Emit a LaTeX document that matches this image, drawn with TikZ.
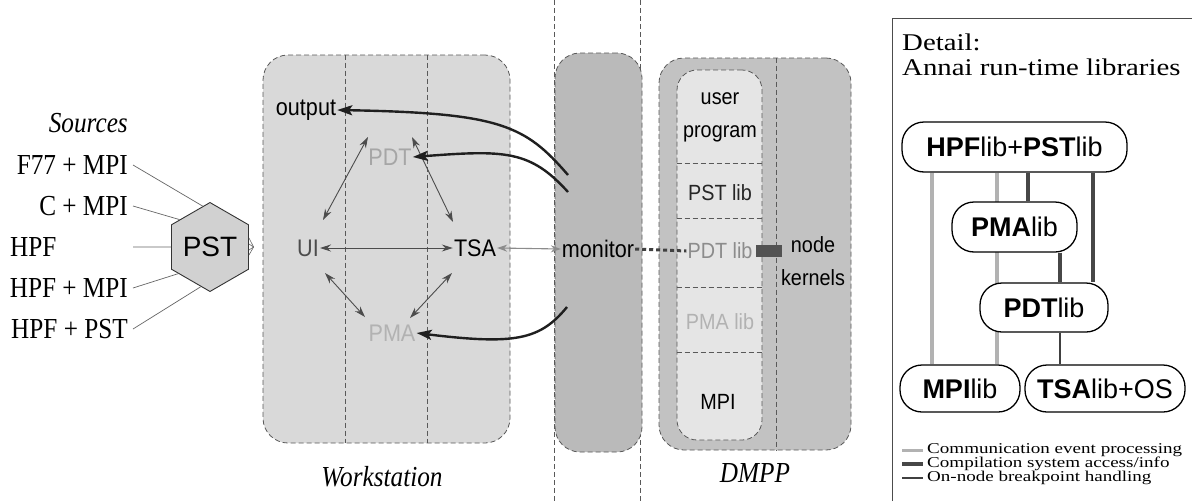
\documentclass[tikz,border=0pt]{standalone}
\usepackage{fontspec}
\setmainfont{Liberation Serif}
\newfontfamily\lblf[FakeStretch=0.9]{Liberation Sans}
\newfontfamily\pillf{Liberation Sans}
\newfontfamily\srcf[FakeStretch=0.87]{Liberation Serif}
\newfontfamily\detf[FakeStretch=1.2]{Liberation Serif}
\newfontfamily\legf[FakeStretch=1.27]{Liberation Serif}
\usetikzlibrary{shapes.geometric,arrows.meta,backgrounds,calc}
\newcommand\myfs[1]{\fontsize{#1}{#1}\selectfont}
\tikzset{
 dl/.style={dash pattern=on 5pt off 3pt, draw=black!65, line width=0.8pt},
 bigbox/.style={dl, rounded corners=25pt, inner sep=0pt},
 lbl/.style={font=\lblf\myfs{24}, inner sep=1pt},
 src/.style={font=\srcf\myfs{29}, inner sep=0pt},
 itcap/.style={font=\srcf\itshape\myfs{29}, inner sep=0pt},
 pill/.style={draw=black, line width=1.3pt, fill=white, rounded corners=22pt, font=\pillf\myfs{27}, inner sep=0pt},
 dbl/.style={{Stealth[length=11pt,width=7pt]}-{Stealth[length=11pt,width=7pt]}, line width=0.9pt, draw=black!70},
 thk/.style={-{Stealth[length=15pt,width=10pt,inset=3pt]}, line width=2.4pt, draw=black!88},
 srcline/.style={draw=black!60, line width=0.7pt},
 comm/.style={draw=black!30, line width=3.5pt},
 compl/.style={draw=black!72, line width=4pt},
 brk/.style={draw=black!75, line width=1.4pt},
}
\begin{document}
\begin{tikzpicture}[x=1pt,y=-1pt]
\useasboundingbox (0,0) rectangle (1192,501);
\begin{pgfonlayer}{background}
\fill[white] (0,0) rectangle (1192,501);
\end{pgfonlayer}

% outer dashed column lines
\draw[dl] (554,0) -- (554,501);
\draw[dl] (640,0) -- (640,501);

% big boxes
\node[bigbox, fill=black!15, minimum width=247pt, minimum height=388pt] (ws) at (386.5,249) {};
\draw[dl] (ws.north -| 345,0) -- (ws.south -| 345,0);
\draw[dl] (ws.north -| 427,0) -- (ws.south -| 427,0);
\node[bigbox, fill=black!27, minimum width=87pt, minimum height=399pt] (mon) at (598.5,252.5) {};
\node[bigbox, fill=black!24, minimum width=192pt, minimum height=392pt] (dmpp) at (755,254) {};
\draw[dl] (dmpp.north -| 776,0) -- (dmpp.south -| 776,0);
\node[dl, fill=black!10, rounded corners=20pt, inner sep=0pt, minimum width=85pt, minimum height=370pt] (pill) at (719.5,255) {};
\foreach \yy in {163,218,287,352}{\draw[dl] (pill.west |- 0,\yy) -- (pill.east |- 0,\yy);}

% sources
\node[itcap, anchor=east] (srcs) at (128,123) {Sources};
\node[src, anchor=east] (f77) at (128,165) {F77 + MPI};
\node[src, anchor=east] (cmpi) at (128,206) {C + MPI};
\node[src, anchor=west] (hpf) at (10,247) {HPF};
\node[src, anchor=east] (hpfmpi) at (128,288) {HPF + MPI};
\node[src, anchor=east] (hpfpst) at (128,329) {HPF + PST};
\coordinate (hpfend) at (133,247);
\node[regular polygon, regular polygon sides=6, shape border rotate=30, draw=black!80, line width=0.9pt, fill=black!18, minimum size=72pt, inner sep=0pt, font=\pillf\myfs{28}] (pst) at (210,247) {PST};
\draw[srcline] ([xshift=5pt]f77.east) -- (pst.100);
\draw[srcline] ([xshift=5pt]cmpi.east) -- (pst.138);
\draw[srcline] (hpfend) -- (pst.180);
\draw[srcline] ([xshift=5pt]hpfmpi.east) -- (pst.220);
\draw[srcline] ([xshift=5pt]hpfpst.east) -- (pst.257);
\coordinate (fan) at ([shift={(-9,-2)}]ws.west);
\foreach \dy in {-9,-3,3,8}{\draw[draw=black!60, line width=0.6pt] ([yshift=-\dy pt]pst.east) -- (fan);}

% workstation contents
\node[lbl, text=black] (out) at (306,110) {output};
\node[lbl, text=black!35] (pdt) at (390,157) {PDT};
\node[lbl, text=black!70] (ui) at (308,248) {UI};
\node[lbl, text=black] (tsa) at (475,248) {TSA};
\node[lbl, text=black!30] (pma) at (392,333) {PMA};
\draw[dbl] (ui.east) -- (tsa.west);
\draw[dbl] ([shift={(15,-28)}]ui.center) -- ([shift={(-22,-20)}]pdt.center);
\draw[dbl] ([shift={(22,-20)}]pdt.center) -- ([shift={(-22,-26)}]tsa.center);
\draw[dbl] ([shift={(17,25)}]ui.center) -- ([shift={(-27,-16)}]pma.center);
\draw[dbl] ([shift={(-23,25)}]tsa.center) -- ([shift={(18,-15)}]pma.center);

% monitor
\node[lbl] (monl) at (598,249) {monitor};
\draw[{Stealth[length=10pt,width=7pt]}-{Stealth[length=10pt,width=7pt]}, draw=black!45, line width=1.1pt] (tsa.east) -- (monl.west);
\coordinate (m1) at (568,175);
\coordinate (m2) at (568,192);
\coordinate (m3) at (567,307);
\draw[thk] (m1) .. controls (525,125) and (500,113) .. (out.east);
\draw[thk] (m2) .. controls (530,150) and (505,150) .. (pdt.east);
\draw[thk] (m3) .. controls (540,340) and (515,345) .. (pma.east);

% DMPP contents
\node[lbl, align=center, font={\lblf\fontsize{22}{33}\selectfont}] (up) at (720,117) {user\\program};
\node[lbl, font=\lblf\myfs{22}, text=black!85] (pstlib) at (720,193) {PST lib};
\node[lbl, font=\lblf\myfs{22}, text=black!45] (pdtlib) at (720,251) {PDT lib};
\node[lbl, font=\lblf\myfs{22}, text=black!30] (pmalib) at (720,322) {PMA lib};
\node[lbl, font=\lblf\myfs{22}] (mpi) at (718,402) {MPI};
\node[lbl, align=center, font={\lblf\fontsize{22}{33}\selectfont}] (nk) at (813,261) {node\\kernels};
\node[fill=black!68, minimum width=26pt, minimum height=12pt, inner sep=0pt] (blk) at (769,251) {};
\draw[draw=black!75, line width=3pt, dash pattern=on 4pt off 3pt] (monl.east) -- (pdtlib.west);

% captions
\node[itcap] (wsl) at (382,477) {Workstation};
\node[itcap] (dmppl) at (755,473) {DMPP};

% detail panel
\draw[draw=black!70, line width=0.8pt] (892,501) -- (892,18) -- (1192,18);
\node[anchor=west, inner sep=0pt, font=\detf\myfs{24}] (det1) at (902,42) {Detail:};
\node[anchor=west, inner sep=0pt, font=\detf\myfs{24}] (det2) at (902,67) {Annai run-time libraries};
\node[pill, minimum width=225pt, minimum height=50pt] (hpfl) at (1014.5,147) {\bfseries HPF\mdseries lib+\bfseries PST\mdseries lib};
\node[pill, minimum width=125pt, minimum height=50pt] (pmal) at (1014.5,227) {\bfseries PMA\mdseries lib};
\node[pill, minimum width=128pt, minimum height=49pt] (pdtl) at (1044,307.5) {\bfseries PDT\mdseries lib};
\node[pill, minimum width=120pt, minimum height=47pt] (mpil) at (960,388.5) {\bfseries MPI\mdseries lib};
\node[pill, minimum width=160pt, minimum height=47pt] (tsal) at (1105,388.5) {\bfseries TSA\mdseries lib+OS};
\coordinate (gx1) at (932,0);
\coordinate (gx2) at (997,0);
\coordinate (gx3) at (1028,0);
\coordinate (gx4) at (1093,0);
\coordinate (gx5) at (1060,0);
\begin{pgfonlayer}{background}
\draw[comm] (hpfl.south -| gx1) -- (mpil.north -| gx1);
\draw[comm] (hpfl.south -| gx2) -- (mpil.north -| gx2);
\draw[compl] (hpfl.south -| gx3) -- (pmal.north -| gx3);
\draw[compl] (hpfl.south -| gx4) -- (pdtl.north -| gx4);
\draw[compl] (pmal.south -| gx5) -- (pdtl.north -| gx5);
\draw[brk] (pdtl.south -| gx5) -- (tsal.north -| gx5);
\end{pgfonlayer}

% legend
\node[anchor=west, inner sep=0pt, font=\legf\myfs{15}] (lg1) at (927,450) {Communication event processing};
\node[anchor=west, inner sep=0pt, font=\legf\myfs{15}] (lg2) at (927,464) {Compilation system access/info};
\node[anchor=west, inner sep=0pt, font=\legf\myfs{15}] (lg3) at (927,478) {On-node breakpoint handling};
\draw[draw=black!30, line width=3pt] ([xshift=-25pt]lg1.west) -- ([xshift=-4pt]lg1.west);
\draw[draw=black!72, line width=3.5pt] ([xshift=-25pt]lg2.west) -- ([xshift=-4pt]lg2.west);
\draw[draw=black!75, line width=1.2pt] ([xshift=-25pt]lg3.west) -- ([xshift=-4pt]lg3.west);
\end{tikzpicture}
\end{document}
